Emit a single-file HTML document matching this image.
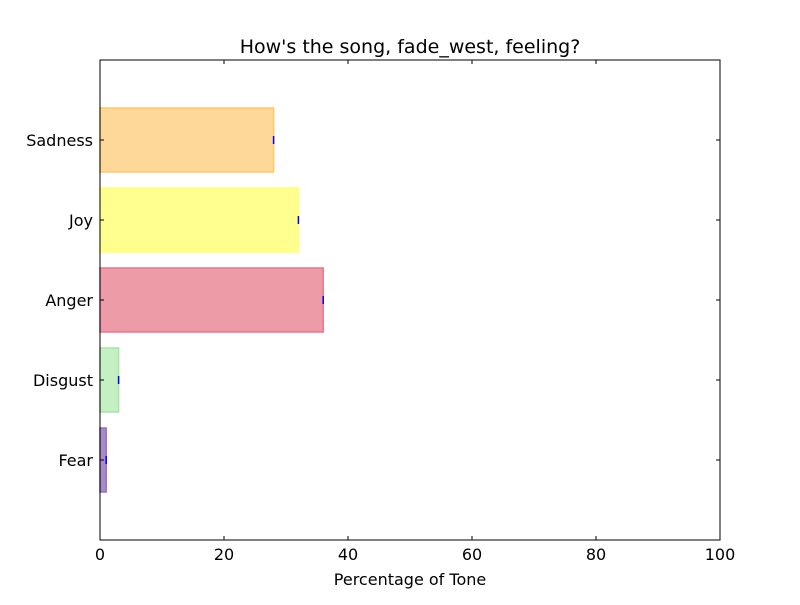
<!DOCTYPE html>
<html><head><meta charset="utf-8"><style>
body{margin:0;background:#fff;}
svg text{font-family:"DejaVu Sans","Liberation Sans",sans-serif;}
</style></head><body>
<svg id="c" width="800" height="600" xmlns="http://www.w3.org/2000/svg">
<rect width="800" height="600" fill="#fff"/>
<text x="410" y="53" font-size="19" text-anchor="middle">How's the song, fade_west, feeling?</text>
<g id="bars"></g>
<g id="axes"></g>
<text x="410" y="585" font-size="16" text-anchor="middle">Percentage of Tone</text>
</svg>
<script>
const categories = ["Fear","Disgust","Anger","Joy","Sadness"];
const values = [1, 3, 36, 32, 28];
const fills = ["#a98bc9","#c4f0c4","#ee9ba8","#ffff8f","#fed898"];
const strokes = ["#9370c0","#a8e6a8","#e8758c","#ffff70","#fec86a"];
const xTicks = [0,20,40,60,80,100];
const L=100,R=720,T=60,B=540;
const x=v=>L+(v-0)/(100-0)*(R-L);
const y=i=>B-(i+1)/6*(B-T);
const NS="http://www.w3.org/2000/svg";
function mk(t,a,p){const e=document.createElementNS(NS,t);for(const k in a)e.setAttribute(k,a[k]);p.appendChild(e);return e;}
const bars=document.getElementById('bars'),axes=document.getElementById('axes');
const bh=64;
categories.forEach((c,i)=>{
  const r=mk('rect',{x:x(0),y:y(i)-bh/2,width:x(values[i])-x(0),height:bh,fill:fills[i],stroke:strokes[i],'stroke-width':1.5},bars);
  
  
  const e=mk('line',{x1:x(values[i]),x2:x(values[i]),y1:y(i)-4,y2:y(i)+4,stroke:'#0000ff','stroke-width':1.5},bars);
  
  
  mk('line',{x1:L,x2:L+4,y1:y(i),y2:y(i),stroke:'#000'},axes);
  mk('line',{x1:R,x2:R-4,y1:y(i),y2:y(i),stroke:'#000'},axes);
  const t=mk('text',{x:L-7,y:y(i)+6,'font-size':16,'text-anchor':'end'},axes);
  t.textContent=c;
  
  
});
xTicks.forEach(v=>{
  mk('line',{x1:x(v),x2:x(v),y1:B,y2:B-4,stroke:'#000'},axes);
  mk('line',{x1:x(v),x2:x(v),y1:T,y2:T+4,stroke:'#000'},axes);
  const t=mk('text',{x:x(v),y:B+20,'font-size':16,'text-anchor':'middle'},axes);
  t.textContent=v;
  
  
});
const f=mk('rect',{x:L,y:T,width:R-L,height:B-T,fill:'none',stroke:'#000','stroke-width':1},axes);


</script>
</body></html>
